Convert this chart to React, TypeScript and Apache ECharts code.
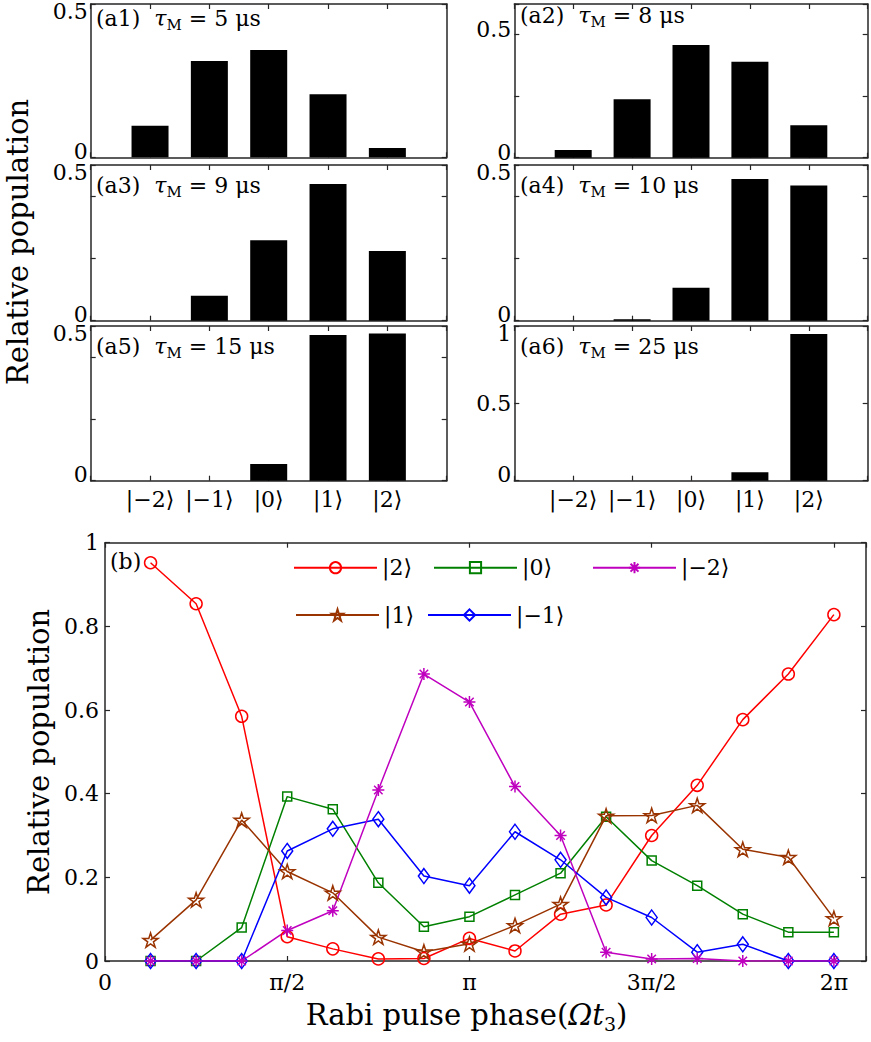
import React, { useEffect, useRef } from 'react';
import * as echarts from 'echarts';

// ---------- data ----------
const kets = ['|−2⟩', '|−1⟩', '|0⟩', '|1⟩', '|2⟩'];
const barA1 = [0.103, 0.314, 0.35, 0.206, 0.03];
const barA2 = [0.031, 0.237, 0.457, 0.389, 0.132];
const barA3 = [0, 0.08, 0.258, 0.439, 0.224];
const barA4 = [0, 0.005, 0.106, 0.455, 0.434];
const barA5 = [0, 0, 0.054, 0.471, 0.476];
const barA6 = [0, 0, 0, 0.054, 0.948];
const panelTags = ['(a1)', '(a2)', '(a3)', '(a4)', '(a5)', '(a6)'];
const tauValues = ['5', '8', '9', '10', '15', '25'];

// phase in units of pi
const phaseInPi = [0.125, 0.25, 0.375, 0.5, 0.625, 0.75, 0.875, 1, 1.125, 1.25, 1.375, 1.5, 1.625, 1.75, 1.875, 2];
const pop2 = [0.952, 0.854, 0.585, 0.058, 0.029, 0.005, 0.006, 0.054, 0.024, 0.112, 0.134, 0.3, 0.42, 0.577, 0.686, 0.828];
const pop0 = [0, 0, 0.08, 0.393, 0.363, 0.187, 0.082, 0.106, 0.158, 0.21, 0.345, 0.24, 0.18, 0.112, 0.069, 0.069];
const popM2 = [0, 0, 0, 0.073, 0.12, 0.409, 0.686, 0.619, 0.417, 0.3, 0.021, 0.005, 0.006, 0, 0, 0];
const pop1 = [0.05, 0.146, 0.337, 0.214, 0.163, 0.057, 0.022, 0.041, 0.085, 0.136, 0.347, 0.348, 0.372, 0.267, 0.248, 0.102];
const popM1 = [0, 0, 0, 0.263, 0.316, 0.339, 0.203, 0.18, 0.309, 0.242, 0.152, 0.104, 0.021, 0.04, 0, 0];
const phaseTickLabels = ['0', 'π/2', 'π', '3π/2', '2π'];
const popTickLabels = ['0', '0.2', '0.4', '0.6', '0.8', '1'];

// ---------- layout / style ----------
const FONT = 'DejaVu Serif, serif';
const FS = 22;
const NFS = 29;
const AX = '#262626';
const bars = [barA1, barA2, barA3, barA4, barA5, barA6];
const boxes = [
  { left: 90.7, top: 4, width: 356, height: 153.3 },
  { left: 514.3, top: 4, width: 353.4, height: 153.7 },
  { left: 90.7, top: 165, width: 356, height: 155.7 },
  { left: 514.3, top: 165, width: 353.4, height: 155.7 },
  { left: 90.7, top: 326, width: 356, height: 154.7 },
  { left: 514.3, top: 326, width: 353.4, height: 154.7 },
];
const yCfg = [
  { max: 0.5, interval: 0.5, marks: { '0': 'lo', '0.5': 'hi' } },
  { max: 0.623, interval: 0.25, marks: { '0': 'lo5', '0.5': 'lo5' } },
  { max: 0.5, interval: 0.2, marks: { '0': 'lo', '0.5': 'hi' } },
  { max: 0.5, interval: 0.2, marks: { '0': 'lo', '0.5': 'hi' } },
  { max: 0.5, interval: 0.2, marks: { '0': 'lo', '0.5': 'hi' } },
  { max: 1, interval: 0.5, marks: { '0': 'lo', '0.5': 'n', '1': 'hi' } },
];
const labelRich = {
  lo: { fontSize: FS, fontFamily: FONT, color: '#000', lineHeight: 17, padding: [0, 0, 12, 0] },
  lo5: { fontSize: FS, fontFamily: FONT, color: '#000', lineHeight: 17, padding: [0, 0, 10, 0] },
  hi: { fontSize: FS, fontFamily: FONT, color: '#000', lineHeight: 17, padding: [14, 0, 0, 0] },
  n: { fontSize: FS, fontFamily: FONT, color: '#000', lineHeight: 17 },
};

const series5 = [
  { name: '|2⟩', data: pop2, color: '#ff0000', symbol: 'circle', size: 12 },
  { name: '|0⟩', data: pop0, color: '#008000', symbol: 'rect', size: 9 },
  { name: '|1⟩', data: pop1, color: '#993300', symbol: 'star', size: 15 },
  { name: '|−1⟩', data: popM1, color: '#0000ff', symbol: 'diamond', size: [11, 15] },
  { name: '|−2⟩', data: popM2, color: '#bf00bf', symbol: 'asterisk', size: 12 },
];
const legendPos = [
  { name: '|2⟩', left: 293, cy: 567.7 },
  { name: '|0⟩', left: 433, cy: 567.7 },
  { name: '|−2⟩', left: 592, cy: 567.7 },
  { name: '|1⟩', left: 295, cy: 615 },
  { name: '|−1⟩', left: 427, cy: 615 },
];

function starPath(): string {
  const pts: string[] = [];
  for (let i = 0; i < 10; i++) {
    const r = i % 2 === 0 ? 10 : 3.82;
    const a = -Math.PI / 2 + (i * Math.PI) / 5;
    pts.push(`${(r * Math.cos(a)).toFixed(3)},${(r * Math.sin(a)).toFixed(3)}`);
  }
  return 'path://M' + pts.join('L') + 'Z';
}
const symbolMap: Record<string, string> = {
  circle: 'circle',
  rect: 'rect',
  diamond: 'diamond',
  star: starPath(),
  asterisk: 'path://M0,-10L0,10M-10,0L10,0M-7.07,-7.07L7.07,7.07M-7.07,7.07L7.07,-7.07',
};

function fmtKey(v: number): string {
  return String(Math.round(v * 1000) / 1000);
}

export default function App() {
  const ref = useRef<HTMLDivElement>(null);
  useEffect(() => {
    if (!ref.current) return;
    const chart = echarts.init(ref.current, null, { renderer: 'svg' });
    const grid: any[] = [];
    const xAxis: any[] = [];
    const yAxis: any[] = [];
    const series: any[] = [];
    const graphic: any[] = [];
    const axisLine = { show: true, onZero: false, lineStyle: { color: AX, width: 1.5 } };
    const tick = { show: true, inside: true, length: 5, lineStyle: { color: AX, width: 1.2 } };

    boxes.forEach((b, i) => {
      grid.push({ ...b, containLabel: false, outerBoundsMode: 'none' });
      const showX = i >= 4;
      const xBase = {
        gridIndex: i, type: 'value', min: 0, max: 6, interval: 1,
        axisLine, axisTick: tick, splitLine: { show: false },
      };
      xAxis.push({
        ...xBase, position: 'bottom',
        axisLabel: {
          show: showX, margin: 8, fontSize: FS, fontFamily: FONT, color: '#000',
          formatter: (v: number) => (v >= 1 && v <= 5 ? kets[v - 1] : ''),
        },
      });
      xAxis.push({ ...xBase, position: 'top', axisLabel: { show: false } });
      const cfg = yCfg[i];
      const yBase = {
        gridIndex: i, type: 'value', min: 0, max: cfg.max, interval: cfg.interval,
        axisLine, axisTick: tick, splitLine: { show: false },
      };
      yAxis.push({
        ...yBase, position: 'left',
        axisLabel: {
          show: true, margin: 3, fontSize: FS, fontFamily: FONT, color: '#000',
          rich: labelRich,
          formatter: (v: number) => {
            const k = fmtKey(v);
            const st = (cfg.marks as any)[k];
            return st ? `{${st}|${k}}` : '';
          },
        },
      });
      yAxis.push({ ...yBase, position: 'right', axisLabel: { show: false } });
      series.push({
        type: 'bar', xAxisIndex: 2 * i, yAxisIndex: 2 * i,
        data: kets.map((_, j) => [j + 1, bars[i][j]]),
        barWidth: 37, itemStyle: { color: '#000' }, silent: true,
      });
      const right = i % 2 === 1;
      graphic.push({
        type: 'text',
        x: right ? 520 : 96,
        y: b.top + (i < 2 ? (right ? 11 : 14) : 20),
        style: {
          text: `{n|${panelTags[i]}  }{i|τ}{s|M}{n| = ${tauValues[i]} μs}`,
          verticalAlign: 'middle',
          rich: {
            n: { fontSize: FS, fontFamily: FONT, fill: '#000', lineHeight: 28 },
            i: { fontSize: FS, fontFamily: FONT, fontStyle: 'italic', fill: '#000', lineHeight: 28 },
            s: { fontSize: 15, fontFamily: FONT, fill: '#000', lineHeight: 15, verticalAlign: 'bottom' },
          },
        },
      });
    });

    // bottom panel
    const gi = 6;
    grid.push({ left: 105, top: 542.7, width: 761, height: 418.3, containLabel: false, outerBoundsMode: 'none' });
    const half = Math.PI / 2;
    const bx = {
      gridIndex: gi, type: 'value', min: 0, max: 6.56, interval: half,
      axisLine, axisTick: tick, splitLine: { show: false },
    };
    xAxis.push({
      ...bx, position: 'bottom',
      axisLabel: {
        show: true, margin: 10, fontSize: FS, fontFamily: FONT, color: '#000',
        showMaxLabel: true,
        formatter: (v: number) => {
          const k = Math.round(v / half);
          return Math.abs(v - k * half) < 1e-6 && k < phaseTickLabels.length ? phaseTickLabels[k] : '';
        },
      },
      name: '{n|Rabi pulse phase(}{i|Ωt}{s|3}{n|)}',
      nameLocation: 'middle',
      nameGap: 36,
      nameTextStyle: {
        padding: [0, 38, 0, 0],
        rich: {
          n: { fontSize: NFS, fontFamily: FONT, color: '#000', lineHeight: 36 },
          i: { fontSize: NFS, fontFamily: FONT, fontStyle: 'italic', color: '#000', lineHeight: 36 },
          s: { fontSize: 19, fontFamily: FONT, color: '#000', lineHeight: 19, verticalAlign: 'bottom' },
        },
      },
    });
    xAxis.push({ ...bx, position: 'top', axisLabel: { show: false } });
    const by = {
      gridIndex: gi, type: 'value', min: 0, max: 1, interval: 0.2,
      axisLine, axisTick: tick, splitLine: { show: false },
    };
    yAxis.push({
      ...by, position: 'left',
      axisLabel: {
        show: true, margin: 6, fontSize: FS, fontFamily: FONT, color: '#000',
        formatter: (v: number) => popTickLabels[Math.round(v / 0.2)] ?? '',
      },
      name: 'Relative population',
      nameLocation: 'middle',
      nameGap: 47,
      nameTextStyle: { fontSize: NFS, fontFamily: FONT, color: '#000' },
    });
    yAxis.push({ ...by, position: 'right', axisLabel: { show: false } });

    series5.forEach((s) => {
      series.push({
        type: 'line', name: s.name, xAxisIndex: 12, yAxisIndex: 12,
        data: phaseInPi.map((p, j) => [p * Math.PI, s.data[j]]),
        symbol: symbolMap[s.symbol], symbolSize: s.size, symbolKeepAspect: true,
        showAllSymbol: true,
        lineStyle: { color: s.color, width: 1.5 },
        itemStyle: { color: 'rgba(0,0,0,0)', borderColor: s.color, borderWidth: 1.5 },
        emphasis: { disabled: true },
        silent: true,
      });
    });

    const legend = legendPos.map((l) => ({
      data: [l.name], left: l.left, top: l.cy - 14, orient: 'horizontal',
      itemWidth: 83, itemHeight: 14, itemGap: 0, padding: 0, selectedMode: false,
      textStyle: { fontSize: FS, fontFamily: FONT, color: '#000', lineHeight: 28 },
    }));

    graphic.push({
      type: 'text', x: 110, y: 561,
      style: { text: '(b)', fontSize: FS, fontFamily: FONT, fill: '#000', verticalAlign: 'middle' },
    });
    graphic.push({
      type: 'text', x: 18, y: 242, rotation: Math.PI / 2,
      style: { text: 'Relative population', fontSize: NFS, fontFamily: FONT, fill: '#000', align: 'center', verticalAlign: 'middle' },
    });

    chart.setOption({
      animation: false,
      backgroundColor: '#fff',
      textStyle: { fontFamily: FONT },
      grid, xAxis, yAxis, series, legend, graphic,
    });
    return () => chart.dispose();
  }, []);
  return <div ref={ref} style={{ position: 'fixed', left: 0, top: 0, width: 871, height: 1042 }} />;
}
